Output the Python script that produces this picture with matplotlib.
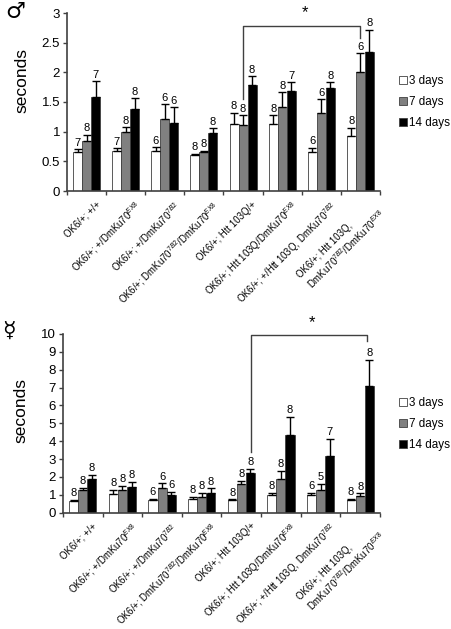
import numpy as np
import matplotlib
matplotlib.use('Agg')
import matplotlib.pyplot as plt
from matplotlib.patches import Patch

plt.rcParams['font.family'] = ['Liberation Sans', 'DejaVu Sans']
plt.rcParams['mathtext.fontset'] = 'custom'
plt.rcParams['mathtext.rm'] = 'Liberation Sans'
plt.rcParams['mathtext.it'] = 'Liberation Sans:italic'

#%% Data
genotypes = [
    'OK6/+; +/+',
    'OK6/+; +/DmKu70$^{EX8}$',
    'OK6/+; +/DmKu70$^{7B2}$',
    'OK6/+; DmKu70$^{7B2}$/DmKu70$^{EX8}$',
    'OK6/+; Htt 103Q/+',
    'OK6/+; Htt 103Q/DmKu70$^{EX8}$',
    'OK6/+; +/Htt 103Q, DmKu70$^{7B2}$',
    'OK6/+; Htt 103Q,\nDmKu70$^{7B2}$/DmKu70$^{EX8}$',
]
series_names = ['3 days', '7 days', '14 days']

# male
male_3d = [0.65, 0.68, 0.68, 0.60, 1.13, 1.13, 0.65, 0.93]
male_3d_err = [0.06, 0.04, 0.06, 0.03, 0.19, 0.15, 0.08, 0.14]
male_7d = [0.85, 1.00, 1.21, 0.65, 1.12, 1.42, 1.32, 2.00]
male_7d_err = [0.10, 0.08, 0.25, 0.03, 0.16, 0.25, 0.23, 0.32]
male_14d = [1.58, 1.38, 1.14, 0.97, 1.78, 1.68, 1.73, 2.35]
male_14d_err = [0.27, 0.18, 0.28, 0.09, 0.15, 0.15, 0.10, 0.37]
male_n_3d = [7, 7, 6, 8, 8, 8, 6, 8]
male_n_7d = [8, 8, 6, 8, 8, 8, 6, 6]
male_n_14d = [7, 8, 6, 8, 8, 7, 8, 8]

# hermaphrodite
herm_3d = [0.67, 1.05, 0.72, 0.75, 0.71, 0.99, 0.99, 0.71]
herm_3d_err = [0.04, 0.22, 0.04, 0.15, 0.03, 0.13, 0.13, 0.06]
herm_7d = [1.25, 1.25, 1.36, 0.86, 1.59, 1.87, 1.25, 0.93]
herm_7d_err = [0.15, 0.27, 0.28, 0.27, 0.20, 0.48, 0.35, 0.15]
herm_14d = [1.90, 1.46, 0.99, 1.08, 2.24, 4.37, 3.19, 7.09]
herm_14d_err = [0.20, 0.25, 0.18, 0.28, 0.20, 0.97, 0.93, 1.45]
herm_n_3d = [8, 8, 6, 8, 8, 8, 6, 8]
herm_n_7d = [8, 8, 6, 8, 8, 8, 5, 8]
herm_n_14d = [8, 8, 6, 8, 8, 8, 7, 8]

bar_colors = ['white', '#808080', 'black']
W, H = 452, 629


#%% Function
def draw_panel(ax, vals, errs, ns, ymax, ystep, n_off, lab_xy):
    x = np.arange(len(genotypes))
    bw = 0.23
    for k in range(3):
        xs = x + (k - 1) * bw
        ax.bar(xs, vals[k], bw, color=bar_colors[k], edgecolor='#404040', linewidth=0.6,
               yerr=[np.zeros(len(x)), errs[k]],
               error_kw=dict(ecolor='black', elinewidth=1, capsize=2.8, capthick=1), zorder=2)
        for xi, v, e, n in zip(xs, vals[k], errs[k], ns[k]):
            ax.text(xi, v + e + n_off, str(n), ha='center', va='bottom', fontsize=8)
    ax.set_xlim(-0.5, len(x) - 0.5)
    ax.set_ylim(0, ymax)
    ticks = np.arange(0, ymax + 0.001, ystep)
    ax.set_yticks(ticks)
    ax.set_yticklabels(['%g' % t for t in ticks], fontsize=9.5)
    ax.set_xticks(np.arange(-0.5, len(x), 1.0))
    ax.set_xticklabels([])
    ax.tick_params(axis='both', direction='out', length=3, width=1, color='#404040', pad=2)
    for s in ['top', 'right']:
        ax.spines[s].set_visible(False)
    for s in ['left', 'bottom']:
        ax.spines[s].set_color('#404040')
        ax.spines[s].set_linewidth(1.2)
    trans = ax.get_xaxis_transform()
    for i, lab in enumerate(genotypes):
        ax.text(i + 0.22, -0.045, lab, transform=trans, rotation=45,
                ha='right', va='top', rotation_mode='anchor', fontsize=6.9,
                multialignment='left')
    ax.set_ylabel('seconds', fontsize=12.5)
    ax.yaxis.set_label_coords(*lab_xy)


fig = plt.figure(figsize=(W / 100, H / 100), dpi=100)
ax1 = fig.add_axes([67 / W, 1 - 191 / H, (380 - 67) / W, (191 - 13) / H])
ax2 = fig.add_axes([63 / W, 1 - 512.7 / H, (380 - 63) / W, (512.7 - 334) / H])

draw_panel(ax1, [male_3d, male_7d, male_14d], [male_3d_err, male_7d_err, male_14d_err],
           [male_n_3d, male_n_7d, male_n_14d], 3, 0.5, 0.02, (-0.12, 0.62))
draw_panel(ax2, [herm_3d, herm_7d, herm_14d], [herm_3d_err, herm_7d_err, herm_14d_err],
           [herm_n_3d, herm_n_7d, herm_n_14d], 10, 1, 0.1, (-0.11, 0.57))

# significance brackets
ax1.plot([4, 4, 7, 7], [1.55, 2.78, 2.78, 2.58], color='#404040', lw=1, clip_on=False)
ax1.text(5.58, 3.0, '*', ha='center', va='center', fontsize=12, clip_on=False)
ax2.plot([4.25, 4.25, 7.18, 7.18], [3.4, 9.96, 9.96, 9.6], color='#404040', lw=1, clip_on=False)
ax2.text(5.79, 10.65, '*', ha='center', va='center', fontsize=12, clip_on=False)

# legends
handles = [Patch(facecolor=c, edgecolor='#404040', linewidth=0.6) for c in bar_colors]
for yc in [102 / H, 424 / H]:
    fig.legend(handles, series_names, loc='center left', bbox_to_anchor=(393 / W, 1 - yc),
               frameon=False, fontsize=8.4, handlelength=0.7, handleheight=0.7,
               handletextpad=0.2, labelspacing=0.75, borderpad=0)

# sex symbols
fig.text(15 / W, 1 - 12 / H, '\u2642', ha='center', va='center', fontsize=16,
         family='DejaVu Sans', fontweight='bold')
fig.text(9 / W, 1 - 332 / H, '\u263F', ha='center', va='center', fontsize=16,
         family='DejaVu Sans')

fig.savefig('out.png', dpi=100)
